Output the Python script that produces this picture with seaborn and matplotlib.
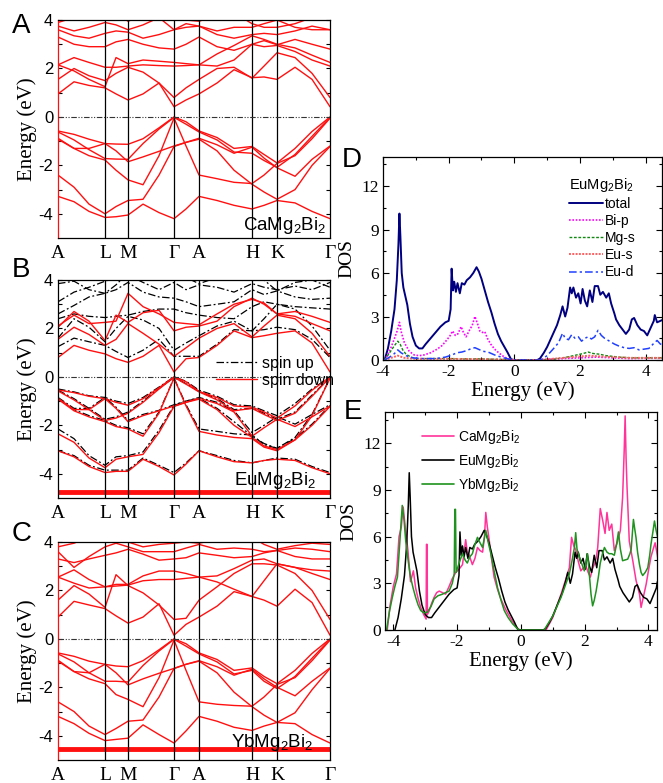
"""Band structures of AMg2Bi2 (A = Ca, Eu, Yb) and their densities of states."""

import pandas as pd
import matplotlib
matplotlib.use("Agg")
import matplotlib.pyplot as plt
import seaborn as sns
from matplotlib.lines import Line2D

# ---- k path -------------------------------------------------------------
kpath = [0, 16, 31, 47, 58, 70, 85, 101, 116, 128, 141, 159, 176, 194, 206, 219, 237, 254, 272]
kticks = [0, 47, 70, 116, 141, 194, 219, 272]
klabels = ["A", "L", "M", "Γ", "A", "H", "K", "Γ"]

# ---- CaMg2Bi2 bands (eV) ------------------------------------------------
ca_val = [
    [-0.58, -0.72, -0.92, -1.10, -1.12, -1.13, -0.90, -0.45, 0.00, -0.20, -0.58, -0.85, -1.30, -1.22, -1.55, -1.90, -1.30, -0.60, 0.00],
    [-0.62, -0.95, -1.35, -1.72, -1.74, -1.75, -1.10, -0.50, -0.02, -0.30, -0.62, -0.95, -1.45, -1.50, -1.80, -2.08, -1.55, -0.80, -0.02],
    [-0.88, -1.30, -1.30, -1.10, -1.40, -1.85, -1.65, -1.42, -1.20, -1.05, -0.88, -1.15, -1.50, -1.25, -1.70, -2.10, -2.45, -1.75, -1.20],
    [-0.92, -1.30, -1.60, -1.78, -2.20, -2.60, -2.80, -1.60, -0.05, -1.20, -2.40, -2.55, -2.70, -2.75, -2.40, -1.92, -1.60, -0.90, -0.05],
    [-2.40, -2.90, -3.60, -4.00, -3.70, -3.45, -3.40, -2.40, -1.22, -1.05, -0.92, -1.40, -2.20, -2.78, -3.10, -3.40, -3.00, -2.00, -1.22],
    [-3.28, -3.50, -3.90, -4.15, -4.12, -4.05, -3.60, -3.95, -4.20, -3.80, -3.28, -3.45, -3.65, -3.80, -3.65, -3.45, -3.55, -3.90, -4.20],
]
ca_con = [
    [0.95, 1.45, 1.30, 1.20, 0.95, 0.70, 0.95, 1.40, 0.42, 0.70, 0.95, 1.40, 1.95, 1.62, 1.65, 1.55, 2.05, 1.55, 0.42],
    [1.55, 2.00, 1.70, 1.50, 1.80, 2.05, 1.85, 1.40, 0.80, 1.20, 1.55, 2.00, 2.05, 1.60, 2.10, 2.65, 2.45, 1.80, 0.80],
    [2.15, 2.45, 2.25, 2.05, 2.05, 2.10, 2.15, 2.12, 2.10, 2.12, 2.15, 2.10, 2.35, 3.00, 2.90, 2.95, 2.70, 2.35, 2.10],
    [2.15, 1.90, 1.55, 1.25, 2.45, 2.20, 2.35, 2.30, 2.25, 2.20, 2.15, 2.60, 2.95, 3.35, 3.20, 3.00, 2.85, 2.55, 2.25],
    [3.30, 3.00, 2.90, 2.90, 3.10, 3.20, 3.00, 2.85, 2.80, 3.00, 3.30, 2.90, 2.75, 3.00, 3.15, 2.98, 3.20, 3.00, 2.80],
    [3.60, 3.35, 3.25, 3.45, 3.55, 3.50, 3.25, 3.40, 3.60, 3.70, 3.75, 3.40, 3.25, 3.40, 3.45, 3.40, 3.55, 3.75, 3.60],
    [3.75, 3.55, 3.70, 3.90, 3.80, 3.60, 3.80, 4.10, 3.60, 3.85, 3.75, 3.55, 3.70, 3.70, 3.85, 4.00, 3.70, 3.60, 3.60],
    [3.90, 4.10, 4.30, 4.50, 4.30, 3.95, 4.20, 4.30, 4.20, 4.00, 3.95, 4.20, 4.30, 3.85, 3.70, 3.70, 3.85, 4.10, 4.20],
]

# ---- EuMg2Bi2 bands: spin down (red) and spin up (black) ----------------
eu_dn_val = [
    [-0.54, -0.65, -0.80, -0.90, -1.05, -1.17, -0.90, -0.45, 0.00, -0.20, -0.60, -0.85, -1.20, -1.25, -1.45, -1.70, -1.20, -0.55, 0.00],
    [-0.58, -0.95, -1.35, -1.80, -1.70, -1.50, -1.05, -0.50, -0.02, -0.30, -0.62, -0.95, -1.40, -1.30, -1.55, -1.80, -1.50, -0.80, -0.02],
    [-0.88, -1.35, -1.35, -0.90, -1.30, -1.85, -1.60, -1.40, -1.20, -1.05, -0.88, -1.10, -1.45, -2.45, -2.10, -1.75, -2.05, -1.65, -1.20],
    [-0.92, -1.40, -1.65, -1.85, -2.05, -2.15, -2.45, -1.50, -0.05, -1.20, -2.25, -2.40, -2.50, -2.55, -2.90, -3.05, -2.60, -1.60, -0.05],
    [-2.35, -2.70, -3.35, -3.75, -3.40, -3.30, -3.20, -2.30, -1.22, -1.05, -0.92, -1.35, -2.00, -2.50, -2.85, -3.00, -2.60, -2.00, -1.22],
    [-3.05, -3.30, -3.70, -3.95, -3.90, -3.90, -3.40, -3.70, -4.05, -3.60, -3.05, -3.30, -3.50, -3.55, -3.45, -3.40, -3.45, -3.75, -4.00],
]
eu_dn_con = [
    [0.80, 1.30, 1.10, 0.95, 0.75, 0.60, 0.85, 1.30, 0.20, 0.75, 0.80, 1.30, 1.90, 1.62, 1.70, 1.80, 1.90, 1.40, 0.20],
    [1.55, 2.05, 1.75, 1.30, 1.55, 2.20, 1.80, 1.35, 0.85, 1.20, 1.60, 2.00, 2.20, 1.65, 2.10, 2.55, 2.40, 1.80, 0.85],
    [2.05, 2.70, 2.30, 1.50, 2.55, 2.25, 2.65, 2.75, 1.90, 2.05, 2.10, 2.30, 2.90, 3.25, 3.00, 2.60, 2.50, 2.20, 1.90],
    [2.10, 2.55, 2.20, 2.25, 2.30, 3.45, 2.90, 2.60, 2.25, 2.20, 2.15, 2.60, 3.00, 3.20, 3.05, 2.60, 2.70, 2.50, 2.25],
]
eu_up_val = [
    [-0.50, -0.62, -0.78, -0.85, -1.00, -1.10, -0.85, -0.42, 0.00, -0.18, -0.55, -0.80, -1.15, -1.20, -1.40, -1.60, -1.10, -0.50, 0.00],
    [-0.55, -0.90, -1.30, -1.75, -1.65, -1.45, -1.00, -0.48, -0.02, -0.28, -0.60, -0.90, -1.35, -1.30, -1.50, -1.75, -1.45, -0.75, -0.02],
    [-0.85, -1.30, -1.30, -0.85, -1.25, -1.80, -1.55, -1.38, -1.15, -1.00, -0.85, -1.05, -1.40, -2.30, -2.00, -1.65, -1.95, -1.55, -1.15],
    [-0.90, -1.35, -1.60, -1.80, -2.00, -2.10, -2.35, -1.45, -0.05, -1.15, -2.15, -2.25, -2.35, -2.40, -2.80, -2.95, -2.50, -1.55, -0.05],
    [-2.15, -2.55, -3.25, -3.65, -3.30, -3.25, -3.10, -2.20, -1.18, -1.00, -0.88, -1.30, -1.85, -2.45, -2.75, -2.95, -2.55, -1.95, -1.18],
    [-3.05, -3.25, -3.65, -3.85, -3.85, -3.85, -3.35, -3.65, -3.95, -3.55, -3.05, -3.25, -3.45, -3.55, -3.45, -3.35, -3.40, -3.70, -3.95],
]
eu_up_con = [
    [1.25, 1.60, 1.45, 1.30, 1.05, 0.80, 1.10, 1.55, 0.85, 0.85, 0.85, 1.35, 1.95, 1.90, 1.95, 2.05, 1.95, 1.55, 0.80],
    [1.60, 2.40, 2.05, 1.45, 2.00, 2.50, 2.35, 2.00, 1.10, 1.40, 1.70, 2.10, 2.30, 1.90, 2.40, 3.00, 2.80, 2.10, 1.10],
    [2.40, 2.60, 2.50, 2.45, 2.50, 2.55, 2.70, 2.80, 2.80, 2.65, 2.55, 2.45, 2.40, 2.90, 3.10, 3.00, 2.90, 2.85, 2.80],
    [2.60, 2.95, 3.30, 3.45, 3.60, 3.90, 3.50, 3.30, 3.25, 3.10, 2.90, 3.00, 3.10, 3.60, 3.40, 3.55, 3.30, 3.20, 3.25],
    [3.10, 3.50, 3.70, 3.95, 4.10, 4.20, 3.90, 3.60, 3.90, 3.60, 3.80, 3.70, 3.50, 3.85, 3.70, 3.60, 3.75, 3.60, 3.90],
    [3.85, 3.95, 3.60, 3.45, 3.80, 4.30, 4.40, 4.40, 4.20, 4.10, 3.85, 4.10, 4.30, 4.10, 4.00, 3.55, 3.90, 4.00, 3.70],
]
eu_f_level = -4.75

# ---- YbMg2Bi2 bands (eV) ------------------------------------------------
yb_val = [
    [-0.58, -0.72, -0.92, -1.05, -1.12, -1.15, -0.90, -0.45, 0.00, -0.20, -0.58, -0.85, -1.30, -1.20, -1.55, -1.85, -1.30, -0.60, 0.00],
    [-0.62, -0.95, -1.40, -1.75, -1.75, -1.78, -1.10, -0.50, -0.02, -0.30, -0.62, -0.95, -1.45, -1.30, -1.75, -2.05, -1.55, -0.80, -0.02],
    [-0.88, -1.35, -1.40, -1.05, -1.40, -1.90, -1.65, -1.42, -1.22, -1.05, -0.90, -1.15, -1.50, -1.25, -1.65, -2.00, -2.35, -1.75, -1.20],
    [-0.92, -1.35, -1.65, -1.85, -2.30, -2.50, -2.80, -1.60, -0.05, -1.30, -2.60, -2.70, -2.75, -2.78, -2.40, -1.88, -1.60, -0.90, -0.05],
    [-2.60, -3.00, -3.60, -3.95, -3.70, -3.40, -3.35, -2.40, -1.22, -1.05, -0.92, -1.40, -2.20, -2.80, -3.15, -3.45, -3.05, -2.10, -1.22],
    [-3.20, -3.50, -3.90, -4.20, -4.15, -4.10, -3.55, -3.95, -4.30, -3.80, -3.20, -3.40, -3.65, -3.78, -3.60, -3.45, -3.50, -3.95, -4.30],
]
yb_con = [
    [0.90, 1.55, 1.40, 1.25, 0.95, 0.65, 0.90, 1.45, 0.15, 0.60, 0.90, 1.35, 1.95, 1.75, 1.60, 1.35, 2.05, 1.50, 0.15],
    [1.60, 2.20, 1.85, 1.30, 2.65, 2.20, 1.90, 1.40, 0.80, 0.85, 1.60, 2.15, 2.70, 3.10, 3.10, 3.05, 2.70, 2.00, 0.80],
    [2.55, 2.85, 2.45, 2.15, 2.18, 2.22, 2.40, 2.45, 2.45, 2.50, 2.55, 2.35, 2.05, 1.75, 2.40, 3.10, 2.95, 2.70, 2.45],
    [2.55, 2.30, 2.10, 2.15, 2.25, 2.25, 2.60, 2.80, 2.80, 2.70, 2.55, 2.60, 2.90, 3.25, 3.30, 3.10, 2.95, 2.85, 2.80],
    [3.30, 3.15, 3.30, 3.45, 3.55, 3.70, 3.50, 3.25, 3.30, 3.35, 3.55, 3.45, 3.35, 3.40, 3.55, 3.65, 3.40, 3.30, 3.30],
    [3.60, 2.95, 3.40, 3.80, 3.95, 3.80, 3.60, 3.60, 3.60, 3.75, 3.90, 3.70, 3.75, 3.70, 3.60, 3.65, 3.75, 3.70, 3.60],
    [3.80, 3.95, 4.20, 4.50, 4.30, 4.00, 3.80, 3.90, 3.95, 4.00, 3.95, 4.10, 4.30, 4.20, 3.90, 3.70, 3.85, 3.95, 3.90],
]
yb_f_level = -4.55

# ---- EuMg2Bi2 DOS (energy eV, states) -----------------------------------
eu_total = [
    (-3.95, 0), (-3.85, 0.8), (-3.75, 2.0), (-3.65, 3.5), (-3.58, 5.5), (-3.53, 8.0), (-3.50, 10.1),
    (-3.47, 8.5), (-3.43, 6.0), (-3.38, 5.0), (-3.32, 4.4), (-3.26, 3.8), (-3.18, 2.5), (-3.10, 1.6),
    (-3.00, 1.0), (-2.90, 0.8), (-2.80, 0.8), (-2.70, 1.1), (-2.55, 1.5), (-2.40, 1.9), (-2.25, 2.3),
    (-2.10, 2.6), (-2.00, 2.7), (-1.94, 3.5), (-1.91, 6.3), (-1.87, 4.8), (-1.83, 5.4), (-1.78, 4.7),
    (-1.73, 5.3), (-1.66, 4.6), (-1.60, 5.3), (-1.52, 5.2), (-1.45, 5.5), (-1.35, 5.7), (-1.25, 6.0),
    (-1.15, 6.4), (-1.08, 6.1), (-1.00, 5.6), (-0.90, 4.8), (-0.80, 4.0), (-0.70, 3.3), (-0.60, 2.5),
    (-0.50, 1.8), (-0.40, 1.3), (-0.30, 0.9), (-0.20, 0.5), (-0.10, 0.05), (0.00, 0), (0.70, 0),
    (0.78, 0.1), (0.90, 0.5), (1.00, 0.9), (1.10, 1.4), (1.20, 1.9), (1.30, 2.4), (1.40, 3.1),
    (1.47, 3.7), (1.55, 3.0), (1.62, 3.6), (1.70, 5.0), (1.75, 4.6), (1.80, 5.0), (1.88, 4.3),
    (1.95, 4.6), (2.02, 3.9), (2.08, 4.9), (2.15, 4.1), (2.22, 3.7), (2.30, 4.8), (2.38, 4.0),
    (2.45, 5.1), (2.55, 5.1), (2.62, 4.5), (2.70, 4.7), (2.80, 4.3), (2.88, 4.6), (2.95, 3.9),
    (3.05, 3.2), (3.10, 2.8), (3.20, 2.4), (3.30, 2.1), (3.40, 1.8), (3.50, 2.1), (3.58, 2.8),
    (3.65, 2.9), (3.75, 2.4), (3.85, 2.1), (3.95, 2.0), (4.05, 1.7), (4.15, 2.2), (4.25, 2.7),
    (4.28, 3.1), (4.35, 2.6), (4.45, 2.7), (4.55, 2.8), (4.60, 2.6),
]
eu_bi_p = [
    (-3.95, 0), (-3.85, 0.4), (-3.75, 0.9), (-3.65, 1.5), (-3.57, 2.0), (-3.50, 2.6), (-3.44, 1.9),
    (-3.35, 1.2), (-3.20, 0.6), (-3.05, 0.35), (-2.90, 0.3), (-2.75, 0.35), (-2.55, 0.5), (-2.35, 0.75),
    (-2.20, 1.0), (-2.05, 1.4), (-1.95, 1.7), (-1.88, 2.0), (-1.80, 1.7), (-1.72, 1.8), (-1.62, 2.3),
    (-1.55, 1.9), (-1.47, 1.6), (-1.38, 2.0), (-1.28, 2.4), (-1.20, 3.0), (-1.12, 2.5), (-1.05, 2.0),
    (-0.97, 1.9), (-0.90, 1.95), (-0.82, 1.5), (-0.72, 1.1), (-0.60, 0.75), (-0.45, 0.45), (-0.30, 0.2),
    (-0.15, 0.05), (-0.05, 0), (0.75, 0), (1.00, 0.05), (1.50, 0.1), (2.00, 0.15), (2.50, 0.2),
    (3.00, 0.15), (3.50, 0.1), (4.00, 0.12), (4.60, 0.12),
]
eu_mg_s = [
    (-3.95, 0), (-3.80, 0.5), (-3.65, 1.0), (-3.55, 1.3), (-3.48, 1.1), (-3.40, 0.7), (-3.30, 0.4),
    (-3.15, 0.2), (-3.00, 0.1), (-2.50, 0.1), (-2.00, 0.1), (-1.50, 0.08), (-1.00, 0.08), (-0.50, 0.05),
    (-0.10, 0.02), (0.00, 0), (0.75, 0), (1.20, 0.05), (1.60, 0.2), (1.90, 0.35), (2.10, 0.45),
    (2.25, 0.55), (2.40, 0.45), (2.60, 0.4), (2.80, 0.3), (3.20, 0.2), (3.60, 0.15), (4.00, 0.15), (4.60, 0.15),
]
eu_eu_s = [
    (-3.95, 0), (-3.75, 0.15), (-3.55, 0.3), (-3.35, 0.15), (-3.00, 0.08), (-2.00, 0.08), (-1.00, 0.06),
    (-0.10, 0.02), (0.00, 0), (0.75, 0), (1.50, 0.15), (2.00, 0.25), (2.30, 0.3), (2.60, 0.25),
    (3.00, 0.2), (3.50, 0.15), (4.00, 0.15), (4.60, 0.15),
]
eu_eu_d = [
    (-3.95, 0), (-3.80, 0.2), (-3.65, 0.45), (-3.55, 0.7), (-3.45, 0.5), (-3.30, 0.3), (-3.10, 0.15),
    (-2.80, 0.1), (-2.40, 0.1), (-2.10, 0.2), (-1.90, 0.35), (-1.75, 0.5), (-1.60, 0.55), (-1.45, 0.65),
    (-1.30, 0.8), (-1.20, 0.85), (-1.10, 0.75), (-0.95, 0.6), (-0.80, 0.55), (-0.60, 0.35), (-0.40, 0.2),
    (-0.20, 0.08), (-0.05, 0.02), (0.00, 0), (0.80, 0), (1.00, 0.3), (1.20, 0.8), (1.35, 1.2),
    (1.47, 1.85), (1.55, 1.5), (1.65, 1.4), (1.75, 1.75), (1.85, 1.5), (1.95, 1.6), (2.05, 1.3),
    (2.15, 1.5), (2.25, 1.6), (2.35, 1.45), (2.45, 1.6), (2.55, 2.05), (2.65, 1.7), (2.75, 1.5),
    (2.90, 1.3), (3.05, 1.1), (3.20, 0.95), (3.35, 0.85), (3.50, 0.8), (3.65, 0.85), (3.80, 0.7),
    (3.95, 0.75), (4.10, 0.8), (4.25, 1.15), (4.35, 1.35), (4.45, 1.1), (4.60, 1.0),
]

# ---- total DOS of CaMg2Bi2 and YbMg2Bi2 ---------------------------------
ca_total = [
    (-4.25, 0), (-4.19, 0), (-4.10, 1.6), (-4.00, 2.8), (-3.90, 3.6), (-3.82, 6.0), (-3.75, 6.6),
    (-3.69, 7.9), (-3.62, 6.5), (-3.54, 5.1), (-3.46, 3.1), (-3.41, 3.5), (-3.37, 3.8), (-3.30, 2.7),
    (-3.22, 2.0), (-3.14, 1.45), (-3.05, 1.0), (-2.97, 0.7), (-2.96, 5.5), (-2.94, 5.5), (-2.93, 1.0),
    (-2.88, 1.2), (-2.80, 1.7), (-2.72, 2.1), (-2.64, 2.4), (-2.56, 2.5), (-2.46, 2.4), (-2.36, 2.3),
    (-2.25, 2.8), (-2.15, 3.3), (-2.04, 3.7), (-1.94, 3.9), (-1.83, 4.2), (-1.78, 5.0), (-1.73, 5.8),
    (-1.68, 5.0), (-1.62, 4.8), (-1.52, 4.2), (-1.44, 4.6), (-1.36, 5.3), (-1.28, 5.1), (-1.20, 5.0),
    (-1.14, 6.0), (-1.10, 7.55), (-1.05, 6.6), (-1.00, 5.9), (-0.92, 4.6), (-0.84, 3.4), (-0.73, 2.6),
    (-0.63, 2.0), (-0.47, 1.3), (-0.31, 0.7), (-0.18, 0.3), (-0.05, 0), (0.79, 0), (1.00, 0.8),
    (1.26, 2.3), (1.40, 3.2), (1.52, 4.0), (1.59, 5.95), (1.66, 5.4), (1.73, 5.1), (1.80, 4.4),
    (1.88, 3.8), (1.96, 4.0), (2.04, 4.1), (2.11, 3.7), (2.18, 3.4), (2.24, 3.9), (2.30, 4.2),
    (2.36, 4.6), (2.41, 5.3), (2.49, 7.8), (2.57, 7.0), (2.64, 6.2), (2.70, 7.55), (2.77, 6.4),
    (2.85, 6.8), (2.93, 5.1), (3.02, 5.6), (3.12, 6.4), (3.19, 8.5), (3.24, 11.5), (3.27, 13.75),
    (3.30, 11.0), (3.33, 9.15), (3.40, 5.7), (3.51, 4.45), (3.61, 3.2), (3.72, 2.3), (3.77, 1.45),
    (3.85, 2.2), (3.93, 2.95), (4.00, 3.8), (4.08, 4.7), (4.15, 5.2), (4.21, 5.6), (4.28, 4.8), (4.35, 3.8),
]
yb_total = [
    (-4.25, 0), (-4.21, 0), (-4.12, 1.2), (-4.03, 2.1), (-3.95, 2.8), (-3.87, 3.4), (-3.80, 5.5),
    (-3.72, 8.0), (-3.66, 7.0), (-3.61, 5.7), (-3.53, 4.4), (-3.46, 3.4), (-3.38, 2.7), (-3.30, 2.1),
    (-3.22, 1.6), (-3.14, 1.25), (-3.04, 1.1), (-2.93, 1.15), (-2.82, 1.5), (-2.72, 2.0), (-2.60, 2.2),
    (-2.46, 2.3), (-2.36, 2.4), (-2.25, 2.5), (-2.15, 3.0), (-2.09, 3.6), (-2.07, 7.75), (-2.05, 7.75),
    (-2.03, 3.7), (-1.92, 4.4), (-1.83, 4.9), (-1.75, 4.5), (-1.68, 4.3), (-1.60, 4.7), (-1.52, 4.9),
    (-1.44, 5.5), (-1.36, 5.95), (-1.28, 5.6), (-1.20, 5.3), (-1.10, 6.4), (-1.02, 5.6), (-0.94, 4.9),
    (-0.84, 3.8), (-0.73, 2.7), (-0.62, 1.9), (-0.52, 1.25), (-0.40, 0.8), (-0.26, 0.4), (-0.12, 0.1),
    (-0.05, 0), (0.73, 0), (1.00, 0.9), (1.26, 2.1), (1.40, 2.9), (1.52, 3.6), (1.60, 4.4),
    (1.68, 5.3), (1.72, 6.25), (1.76, 5.2), (1.83, 4.7), (1.92, 4.2), (1.99, 3.8), (2.05, 4.4),
    (2.09, 4.9), (2.15, 3.5), (2.20, 2.3), (2.25, 1.55), (2.30, 1.9), (2.36, 2.5), (2.43, 3.4),
    (2.49, 4.3), (2.56, 4.9), (2.62, 5.3), (2.70, 5.0), (2.77, 4.9), (2.85, 4.9), (2.93, 4.8),
    (3.00, 5.5), (3.06, 6.3), (3.12, 5.2), (3.19, 4.45), (3.27, 4.5), (3.35, 4.55), (3.42, 4.9),
    (3.46, 5.2), (3.50, 6.3), (3.53, 7.1), (3.57, 6.5), (3.61, 5.95), (3.66, 5.0), (3.72, 4.2),
    (3.77, 3.7), (3.82, 3.5), (3.90, 3.7), (3.98, 4.0), (4.04, 4.8), (4.08, 5.5), (4.14, 6.3),
    (4.19, 7.0), (4.24, 6.4), (4.29, 5.95), (4.32, 5.6),
]

# ---- style ---------------------------------------------------------------
sns.set_theme(style="ticks", rc={
    "axes.edgecolor": "black", "xtick.color": "black", "ytick.color": "black",
    "text.color": "black", "axes.labelcolor": "black", "axes.linewidth": 0.9,
})
plt.rcParams["font.family"] = ["Liberation Serif", "DejaVu Serif"]
plt.rcParams["mathtext.fontset"] = "custom"
plt.rcParams["mathtext.rm"] = "Liberation Sans"
plt.rcParams["mathtext.it"] = "Liberation Sans:italic"
plt.rcParams["axes.unicode_minus"] = False
SANS = ["Liberation Sans", "DejaVu Sans"]
RED = "#ff1010"
FERMI = (0, (5, 1.5, 1, 1.5, 1, 1.5))
DASHDOT = (0, (6, 2, 1.5, 2))

fig = plt.figure(figsize=(6.63, 7.83), dpi=100)


def draw_bands(ax, bands, color, ls="-", lw=1.0):
    rows = [(i, k, e) for i, b in enumerate(bands) for k, e in zip(kpath, b)]
    df = pd.DataFrame(rows, columns=["band", "k", "E"])
    sns.lineplot(data=df, x="k", y="E", units="band", estimator=None, sort=False,
                 color=color, lw=lw, linestyle=ls, ax=ax, legend=False)


def draw_flat(ax, level):
    sns.lineplot(x=[kpath[0], kpath[-1]], y=[level, level], color=RED, lw=3.5, ax=ax, legend=False)


def band_axes(bottom, left_red):
    ax = fig.add_axes([0.0875, bottom, 0.4103, 0.2784])
    for k in kticks[1:-1]:
        ax.axvline(k, color="black", lw=0.9, zorder=3)
    ax.axhline(0, color="#333333", lw=0.8, ls=FERMI, zorder=3)
    if left_red:
        ax.spines["left"].set_color(RED)
    return ax


def finish_band_axes(ax):
    ax.set_xlim(0, 272)
    ax.set_ylim(-5, 4)
    ax.set_xticks(kticks)
    ax.set_xticklabels(klabels, fontsize=14)
    ax.tick_params(axis="x", length=0, pad=5)
    ax.set_yticks([-4, -2, 0, 2, 4])
    ax.set_yticklabels(["-4", "-2", "0", "2", "4"], fontfamily=SANS, fontsize=12)
    ax.set_yticks([-3, -1, 1, 3], minor=True)
    ax.tick_params(axis="y", which="both", direction="in", left=True, right=True, length=3, width=0.8)
    ax.set_xlabel("")
    ax.set_ylabel("Energy (eV)", fontsize=15, labelpad=1)


def compound(ax, text, x, y):
    ax.text(x, y, text, transform=ax.transAxes, ha="right", va="bottom",
            fontfamily=SANS, fontsize=13.5, zorder=5)


# ---- A: CaMg2Bi2 ---------------------------------------------------------
axA = band_axes(0.696, True)
draw_bands(axA, ca_val, RED)
draw_bands(axA, ca_con, RED)
finish_band_axes(axA)
compound(axA, r"CaMg$_2$Bi$_2$", 0.985, 0.01)

# ---- B: EuMg2Bi2 ---------------------------------------------------------
axB = band_axes(0.364, False)
draw_bands(axB, eu_up_val, "black", ls=DASHDOT, lw=0.9)
draw_bands(axB, eu_up_con, "black", ls=DASHDOT, lw=0.9)
draw_bands(axB, eu_dn_val, RED)
draw_bands(axB, eu_dn_con, RED)
draw_flat(axB, eu_f_level)
finish_band_axes(axB)
compound(axB, r"EuMg$_2$Bi$_2$", 0.95, 0.03)
axB.legend([Line2D([], [], color="black", lw=0.9, ls=DASHDOT), Line2D([], [], color=RED, lw=1.0)],
           ["spin up", "spin down"], loc="upper left", bbox_to_anchor=(0.55, 0.69),
           frameon=False, prop={"family": SANS, "size": 11.5}, handlelength=2.6,
           handletextpad=0.3, labelspacing=0.15, borderpad=0)

# ---- C: YbMg2Bi2 ---------------------------------------------------------
axC = band_axes(0.0294, True)
draw_bands(axC, yb_val, RED)
draw_bands(axC, yb_con, RED)
draw_flat(axC, yb_f_level)
finish_band_axes(axC)
compound(axC, r"YbMg$_2$Bi$_2$", 0.94, 0.03)


# ---- DOS panels ----------------------------------------------------------
def finish_dos_axes(ax, xlim):
    ax.set_xlim(*xlim)
    ax.set_ylim(0, 14)
    ax.set_xticks([-4, -2, 0, 2, 4])
    ax.set_xticks([-3, -1, 1, 3], minor=True)
    ax.set_yticks([0, 3, 6, 9, 12])
    ax.set_yticks([1.5, 4.5, 7.5, 10.5, 13.5], minor=True)
    ax.tick_params(which="both", direction="in", top=True, right=True, width=0.8, labelsize=12.5, pad=3)
    ax.tick_params(which="major", length=4)
    ax.tick_params(which="minor", length=2.5)
    ax.set_xlabel("Energy (eV)", fontsize=15, labelpad=1)
    ax.set_ylabel("DOS", fontsize=14, labelpad=4)


def draw_dos(ax, pairs, color, ls="-", lw=1.2):
    df = pd.DataFrame(pairs, columns=["E", "DOS"])
    sns.lineplot(data=df, x="E", y="DOS", color=color, linestyle=ls, lw=lw,
                 sort=False, estimator=None, ax=ax, legend=False)


axD = fig.add_axes([0.5777, 0.5402, 0.4208, 0.2593])
d_specs = [
    (eu_total, "#000080", "-", 1.4, "total"),
    (eu_bi_p, "#ff00ff", (0, (1, 1)), 1.2, "Bi-p"),
    (eu_mg_s, "#118811", (0, (2, 1.2)), 1.0, "Mg-s"),
    (eu_eu_s, "#ff6060", (0, (1, 0.7)), 1.4, "Eu-s"),
    (eu_eu_d, "#2040ff", (0, (5, 2, 1.5, 2)), 1.1, "Eu-d"),
]
for pairs, c, ls, lw, lab in d_specs:
    draw_dos(axD, pairs, c, ls, lw)
finish_dos_axes(axD, (-4.0, 4.5))
axD.legend([Line2D([], [], color=c, ls=ls, lw=lw) for _, c, ls, lw, _ in d_specs],
           [s[4] for s in d_specs], title=r"EuMg$_2$Bi$_2$", loc="upper left",
           bbox_to_anchor=(0.64, 0.94), frameon=False, prop={"family": SANS, "size": 10},
           title_fontproperties={"family": SANS, "size": 10.5}, alignment="left",
           handlelength=2.5, handletextpad=0.15, labelspacing=0.22, borderpad=0)

axE = fig.add_axes([0.5807, 0.1954, 0.4103, 0.2784])
e_specs = [
    (ca_total, "#ff3399", r"CaMg$_2$Bi$_2$"),
    (eu_total, "black", r"EuMg$_2$Bi$_2$"),
    (yb_total, "#1f921f", r"YbMg$_2$Bi$_2$"),
]
for pairs, c, lab in e_specs:
    draw_dos(axE, pairs, c, "-", 1.1)
finish_dos_axes(axE, (-4.26, 4.27))
axE.legend([Line2D([], [], color=c, lw=1.2) for _, c, _ in e_specs],
           [s[2] for s in e_specs], loc="upper left", bbox_to_anchor=(0.11, 0.96),
           frameon=False, prop={"family": SANS, "size": 10}, handlelength=2.3,
           handletextpad=0.3, labelspacing=0.45, borderpad=0)

# ---- panel letters -------------------------------------------------------
for letter, x, y in [("A", 0.018, 0.983), ("B", 0.018, 0.672), ("C", 0.018, 0.334),
                     ("D", 0.516, 0.812), ("E", 0.519, 0.490)]:
    fig.text(x, y, letter, fontfamily=SANS, fontsize=20, ha="left", va="top")

fig.savefig("out.png", dpi=100)
